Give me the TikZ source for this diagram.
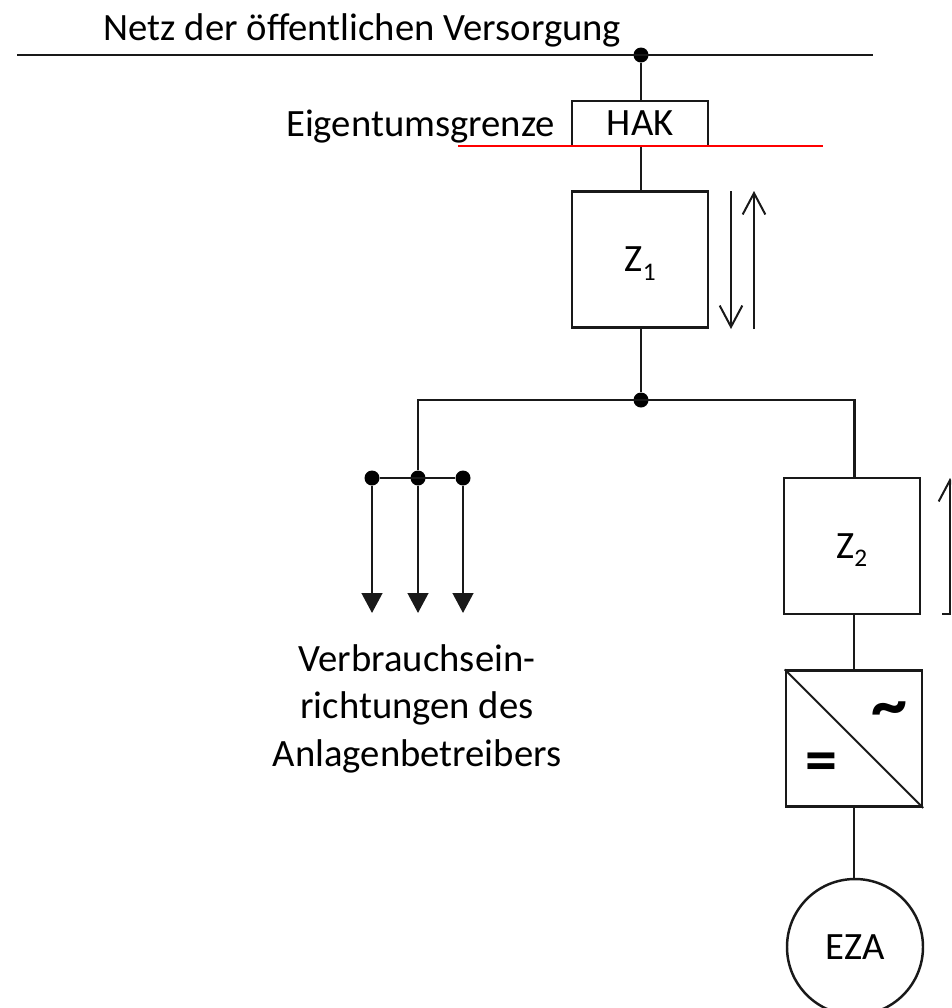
\documentclass[tikz,border=0pt]{standalone}
\usepackage{fontspec}
\setmainfont{Carlito}
\usetikzlibrary{arrows.meta}
\newcommand{\lowidx}[1]{\smash{\raisebox{-.22em}{\fontsize{19}{19}\selectfont #1}}}
\tikzset{
  wire/.style={draw=black!90, line width=1.85pt},
  thinwire/.style={draw=black!90, line width=1.5pt},
  label/.style={font=\fontsize{29}{29}\selectfont, inner sep=0pt, text=black},
  box/.style={wire, fill=none, inner sep=0pt, minimum width=136*.75pt, font=\fontsize{29}{29}\selectfont},
  squarebox/.style={box, minimum height=136*.75pt},
  junction/.style={circle, fill=black, inner sep=0pt, minimum size=15*.75pt},
  load/.style={wire, -{Triangle[length=15pt,width=15.5pt]}},
  flow/.style={thinwire, -{Straight Barb[length=16pt,width=17pt]}},
}
\begin{document}
\begin{tikzpicture}[x=.75pt,y=-.75pt]
\useasboundingbox (0,0) rectangle (951,1008);
\clip (0,0) rectangle (951,1008);
% nodes
\coordinate (gridL) at (17,55);
\coordinate (gridR) at (873,55);
\node[junction] (gridJ) at (641,55) {};
\node[label, anchor=base] (gridT) at (362.5,40) {Netz der öffentlichen Versorgung};
\node[box, minimum height=45*.75pt] (hak) at (640.25,123.5) {HAK};
\node[label, anchor=base east] (eig) at (555,136.5) {Eigentumsgrenze};
\coordinate (redL) at (458,146);
\coordinate (redR) at (823,146);
\node[squarebox] (z1) at (640.25,259.5) {Z\lowidx{1}};
\node[junction] (mid) at (641,400) {};
\coordinate (midL) at (418,400);
\coordinate (midR) at (854.5,400);
\node[squarebox] (z2) at (851.75,546) {Z\lowidx{2}};
\node[squarebox] (inv) at (854,738.7) {};
\node[circle, wire, inner sep=0pt, minimum size=136*.75pt, font=\fontsize{29}{29}\selectfont] (eza) at (855,947) {EZA};
\node[junction] (l1) at (372,478) {};
\node[junction] (l2) at (418,478) {};
\node[junction] (l3) at (463,478) {};
\coordinate (e1) at (372,613);
\coordinate (e2) at (418,613);
\coordinate (e3) at (463,613);
\node[label, align=center, anchor=north, font=\fontsize{29}{35.6}\selectfont] (vtext) at (417,644) {Verbrauchsein-\\richtungen des\\Anlagenbetreibers};
\node[inner sep=0pt, font=\fontsize{54}{54}\selectfont\bfseries] (tilde) at (889,715) {\textasciitilde};
\node[inner sep=0pt, font=\fontsize{48}{48}\selectfont\bfseries] (equal) at (821,767) {=};
\coordinate (a1s) at (731,191); \coordinate (a1e) at (731,329);
\coordinate (a2s) at (754,329); \coordinate (a2e) at (754,191);
\coordinate (a3s) at (950,614); \coordinate (a3e) at (950,478);
\coordinate (a4s) at (942,614); \coordinate (a4e) at (951,614);
% connectors
\draw[thinwire] (gridL) -- (gridR);
\draw[wire] (gridJ) -- (hak.north -| gridJ);
\draw[wire] (hak.south -| gridJ) -- (z1.north -| gridJ);
\draw[wire] (z1.south -| gridJ) -- (mid);
\draw[wire] (l2) -- (midL) -- (midR) -- (midR |- z2.north);
\draw[wire] (l1) -- (l3);
\draw[load] (l1) -- (e1);
\draw[load] (l2) -- (e2);
\draw[load] (l3) -- (e3);
\draw[wire] (inv.north) -- (inv.north |- z2.south);
\draw[wire] (inv.south) -- (eza.north -| inv.south);
\draw[thinwire] (inv.north west) -- (inv.south east);
\draw[draw=red, line width=1.5pt] (redL) -- (redR);
\draw[flow] (a1s) -- (a1e);
\draw[flow] (a2s) -- (a2e);
\draw[flow] (a3s) -- (a3e);
\draw[thinwire] (a4s) -- (a4e);
\end{tikzpicture}
\end{document}
